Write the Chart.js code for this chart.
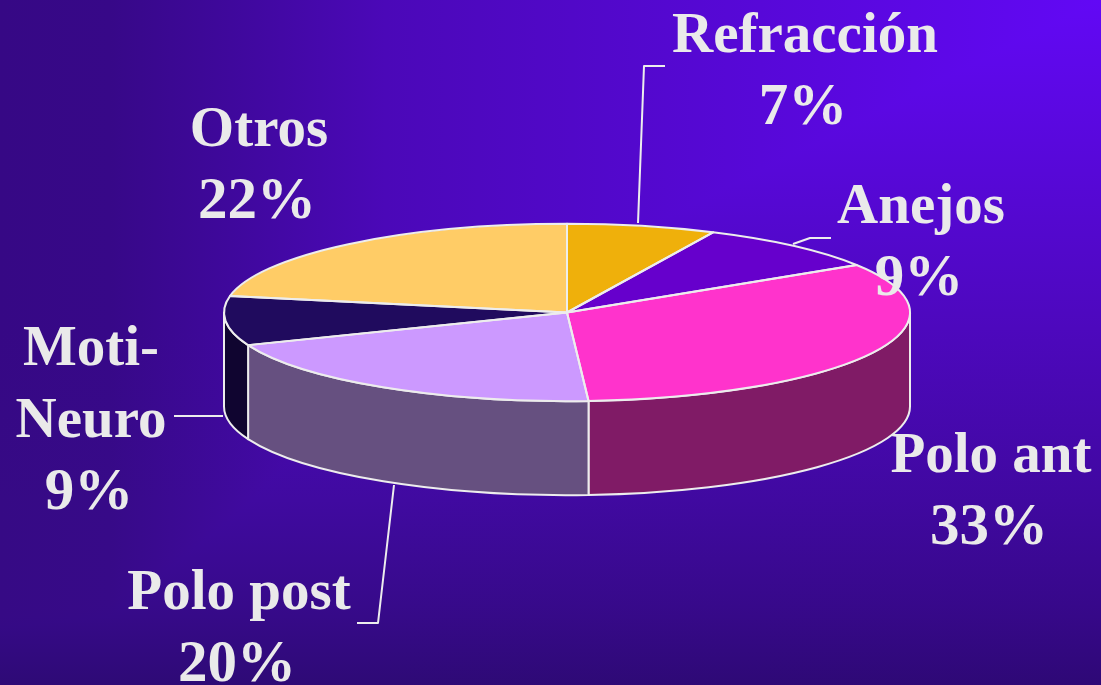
<!DOCTYPE html>
<html><head><meta charset="utf-8">
<script src="https://cdn.jsdelivr.net/npm/chart.js@4"></script>
<style>
html,body{margin:0;padding:0;width:1101px;height:685px;overflow:hidden}
#bg{position:absolute;left:0;top:0;width:1101px;height:685px;
background-image:linear-gradient(to right,#360a85 0%,#370a88 10%,#3f0a9c 21%,#4b0ab8 35%,#6208f5 100%),linear-gradient(to bottom,#6208f5 0%,#4d08bd 48%,#400aa0 73%,#360a88 90%,#2e0a76 100%);
background-blend-mode:darken}
canvas{position:absolute;left:0;top:0}
</style></head>
<body><div id="bg"></div><canvas id="c" width="1101" height="685"></canvas>
<script>
const categories = ["Refracción","Anejos","Polo ant","Polo post","Moti-\nNeuro","Otros"];
const values = [7,9,33,20,9,22];
const topColors = ["#EFB00B","#6600CC","#FF33CC","#CC99FF","#200B5E","#FFCC66"];
const sideColors = ["#78580A","#330066","#801B66","#665080","#100530","#806633"];
const labelCenters = [[805,52],[921,223],[991,472],[239,609],[91,365],[259,146]];
const leaders = [
 [[638,223],[644,66],[665,66]],
 [[793,244],[810,238],[831,238]],
 [[394,485],[378,623],[357,623]],
 [[223,416],[174,416]]
];
const SQUASH = 88.5/342.5, CENTER_Y = 312.5, DEPTH = 94, LINE = 72;
const INK = "#EAEAEA";

const pie3d = {
  id:"pie3d",
  beforeDatasetsDraw(chart){
    const ctx = chart.ctx, arcs = chart.getDatasetMeta(0).data;
    ctx.save();
    ctx.strokeStyle = "#EDEDED"; ctx.lineWidth = 2; ctx.lineJoin = "round";
    arcs.forEach((a,i)=>{
      const s = Math.max(a.startAngle,0), e = Math.min(a.endAngle,Math.PI);
      if (e <= s) return;
      const rx = a.outerRadius+0.5, ry = rx*SQUASH;
      ctx.beginPath();
      ctx.ellipse(a.x,CENTER_Y,rx,ry,0,s,e,false);
      ctx.ellipse(a.x,CENTER_Y+DEPTH,rx,ry,0,e,s,true);
      ctx.closePath();
      ctx.fillStyle = sideColors[i];
      ctx.fill(); ctx.stroke();
    });
    ctx.restore();
    ctx.save();
    const cy = arcs[0].y;
    ctx.translate(0,CENTER_Y);
    ctx.scale(1,SQUASH);
    ctx.translate(0,-cy);
  },
  afterDatasetsDraw(chart){
    const ctx = chart.ctx, arcs = chart.getDatasetMeta(0).data;
    ctx.restore();
    ctx.save();
    ctx.strokeStyle = "#EDEDED"; ctx.lineWidth = 2; ctx.lineJoin = "round";
    arcs.forEach(a=>{
      const rx = a.outerRadius+0.5, ry = rx*SQUASH;
      ctx.beginPath();
      ctx.moveTo(a.x,CENTER_Y);
      ctx.ellipse(a.x,CENTER_Y,rx,ry,0,a.startAngle,a.endAngle,false);
      ctx.closePath();
      ctx.stroke();
    });
    leaders.forEach(pts=>{
      ctx.beginPath();
      pts.forEach((p,j)=> j?ctx.lineTo(p[0],p[1]):ctx.moveTo(p[0],p[1]));
      ctx.stroke();
    });
    ctx.fillStyle = INK;
    ctx.textAlign = "center"; ctx.textBaseline = "alphabetic";
    categories.forEach((c,i)=>{
      const names = c.split("\n");
      const [x,y] = labelCenters[i];
      ctx.font = "bold 57px 'Liberation Serif'";
      names.forEach((t,j)=>ctx.fillText(t,x,y+j*LINE));
      ctx.font = "bold 59px 'Liberation Serif'";
      ctx.fillText(values[i]+"%",x-2,y+names.length*LINE);
    });
    ctx.restore();
  }
};

new Chart(document.getElementById("c"),{
  type:"pie",
  data:{labels:categories,datasets:[{data:values,backgroundColor:topColors,borderWidth:0,clip:false}]},
  options:{
    responsive:false,animation:false,
    layout:{padding:{left:33,right:0,top:0,bottom:0}},
    plugins:{legend:{display:false},tooltip:{enabled:false}}
  },
  plugins:[pie3d]
});
</script></body></html>
